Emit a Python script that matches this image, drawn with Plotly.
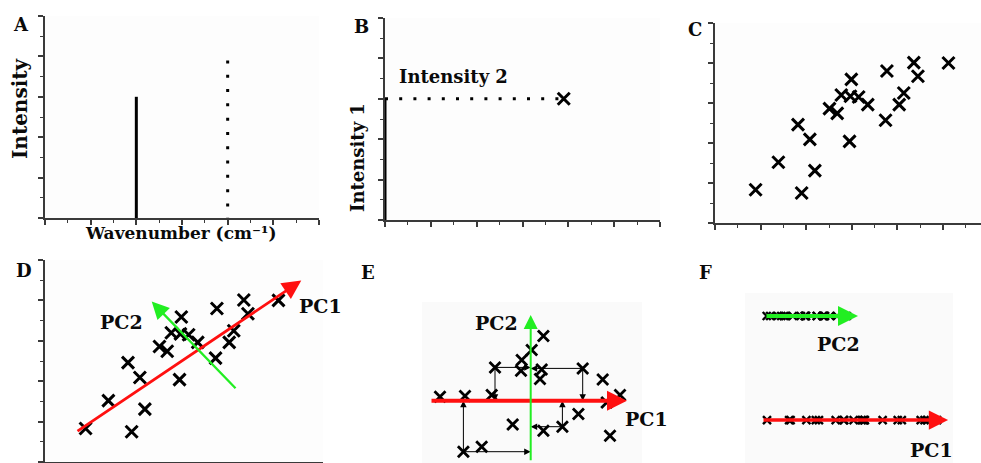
import plotly.graph_objects as go

W, H = 981, 463

# ---------------- data ----------------
# Panel A: two Raman/IR bands (position, intensity)
peak_pos = [2, 4]
peak_int = [3.0, 3.9]

# Panels C / D: samples in (Intensity 2, Intensity 1) space
samp_i2 = [0.89, 1.39, 1.90, 1.82, 2.08, 2.19, 2.51, 2.68, 2.77, 2.99, 2.97,
           3.15, 2.95, 3.35, 3.77, 3.74, 4.04, 4.14, 4.36, 4.45, 5.12]
samp_i1 = [0.83, 1.52, 0.75, 2.46, 2.09, 1.31, 2.86, 2.74, 3.20, 3.59, 3.17,
           3.15, 2.04, 2.96, 3.80, 2.57, 2.96, 3.25, 4.01, 3.67, 4.00]

# Panel D: principal component directions (tail, head)
pc1_tail, pc1_head = (0.68, 0.74), (5.62, 4.49)
pc2_tail, pc2_head = (4.21, 1.79), (2.34, 3.97)

# Panel E: scores in PC space
score_pc1 = [-9.07, -6.57, -3.90, -3.57, -0.90, -0.97, 0.10, 1.27, 1.10, 0.93, 5.20,
             7.20, 8.93, 7.60, 4.77, -1.80, 1.27, 3.17, 7.93, -6.73, -4.90]
score_pc2 = [0.40, 0.47, 0.57, 3.33, 4.07, 3.00, 5.07, 6.47, 3.13, 2.17, 3.23,
             2.13, 0.57, -0.17, -1.33, -2.37, -3.00, -2.60, -3.50, -5.10, -4.60]
proj_idx = [3, 10, 17, 19]

# axis extents of the PC arrows in E and F
e_pc1_span = (-10.07, 9.63)
e_pc2_span = (-6.1, 8.57)
f_pc1_span = (-9.6, 10.1)
f_pc2_span = (-5.35, 8.11)
f_rows = {"PC1": 0, "PC2": 1}

# ---------------- helpers ----------------
def xd(a, b):
    return [a / W, b / W]

def yd(top, bottom):
    return [1 - bottom / H, 1 - top / H]

AX = "#3a3a3a"
SERIF = "DejaVu Serif"

def frame_axis(domain, rng, dtick=1, ticks=True):
    d = dict(domain=domain, range=rng, showline=True, linecolor=AX, linewidth=1.6,
             showgrid=False, zeroline=False, showticklabels=False, fixedrange=True)
    if ticks:
        d.update(ticks="outside", ticklen=5, tickwidth=1.5, tickcolor=AX,
                 tick0=0, dtick=dtick,
                 minor=dict(ticks="outside", ticklen=3, tickwidth=1.3, tickcolor=AX,
                            dtick=dtick / 2, tick0=0, showgrid=False))
    else:
        d.update(ticks="")
    return d

def hidden_axis(domain, rng):
    return dict(domain=domain, range=rng, visible=False, fixedrange=True)

cross = dict(symbol="x-thin", size=12, color="black", line=dict(width=3, color="black"))

fig = go.Figure()

# ---------------- A ----------------
fig.add_trace(go.Scatter(x=[peak_pos[0], peak_pos[0]], y=[0, peak_int[0]], mode="lines",
                         line=dict(color="black", width=3), xaxis="x", yaxis="y"))
fig.add_trace(go.Scatter(x=[peak_pos[1], peak_pos[1]], y=[peak_int[1], 0], mode="lines",
                         line=dict(color="black", width=3, dash="3px,11.3px"),
                         xaxis="x", yaxis="y"))

# ---------------- B ----------------
fig.add_trace(go.Scatter(x=[0, 0], y=[0, peak_int[0]], mode="lines", cliponaxis=False,
                         line=dict(color="black", width=3), xaxis="x2", yaxis="y2"))
fig.add_trace(go.Scatter(x=[0, peak_int[1]], y=[peak_int[0], peak_int[0]], mode="lines",
                         line=dict(color="black", width=3, dash="3px,11.2px"),
                         xaxis="x2", yaxis="y2"))
fig.add_trace(go.Scatter(x=[peak_int[1]], y=[peak_int[0]], mode="markers", marker=cross,
                         xaxis="x2", yaxis="y2"))

# ---------------- C ----------------
fig.add_trace(go.Scatter(x=samp_i2, y=samp_i1, mode="markers", marker=cross,
                         xaxis="x3", yaxis="y3"))

# ---------------- D ----------------
fig.add_trace(go.Scatter(x=samp_i2, y=samp_i1, mode="markers", marker=cross,
                         xaxis="x4", yaxis="y4"))

# ---------------- E ----------------
ecross = dict(cross, size=11, line=dict(width=2.8, color="black"))
fig.add_trace(go.Scatter(x=score_pc1, y=score_pc2, mode="markers", marker=ecross,
                         xaxis="x5", yaxis="y5"))

# ---------------- F ----------------
fcross = dict(cross, size=8, line=dict(width=2.4, color="black"))
fig.add_trace(go.Scatter(x=score_pc1, y=[f_rows["PC1"]] * len(score_pc1), mode="markers",
                         marker=fcross, xaxis="x6", yaxis="y6"))
fig.add_trace(go.Scatter(x=score_pc2, y=[f_rows["PC2"]] * len(score_pc2), mode="markers",
                         marker=fcross, xaxis="x7", yaxis="y6"))

# ---------------- arrows ----------------
anns = []

def arrow(xref, yref, tail, head, color, width, size, hd=2):
    anns.append(dict(xref=xref, yref=yref, axref=xref, ayref=yref,
                     x=head[0], y=head[1], ax=tail[0], ay=tail[1], text="",
                     showarrow=True, arrowhead=hd, arrowsize=size, arrowwidth=width,
                     arrowcolor=color, standoff=0, startstandoff=0))

RED, GREEN = "#ff1010", "#22ee22"
arrow("x4", "y4", pc1_tail, pc1_head, RED, 2.8, 1.35)
arrow("x4", "y4", pc2_tail, pc2_head, GREEN, 2.3, 1.5)

# E projections (drawn under the PC axes)
for i in proj_idx:
    p = (score_pc1[i], score_pc2[i])
    arrow("x5", "y5", p, (p[0], 0), "black", 1, 1.3)
    arrow("x5", "y5", p, (0, p[1]), "black", 1, 1.3)
arrow("x5", "y5", (e_pc1_span[0], 0), (e_pc1_span[1], 0), RED, 4, 1.0)
arrow("x5", "y5", (0, e_pc2_span[0]), (0, e_pc2_span[1]), GREEN, 2, 1.4)

# F
fy1, fy2 = f_rows["PC1"], f_rows["PC2"]
arrow("x6", "y6", (f_pc1_span[0], fy1), (f_pc1_span[1], fy1), RED, 3.5, 1.1)
arrow("x7", "y6", (f_pc2_span[0], fy2), (f_pc2_span[1], fy2), GREEN, 4, 1.0)

# ---------------- text ----------------
def label(px, py, text, size, angle=0):
    anns.append(dict(xref="paper", yref="paper", x=px / W, y=1 - py / H, text=text,
                     showarrow=False, xanchor="center", yanchor="middle", textangle=angle,
                     font=dict(family=SERIF, size=size, color="#0a0a0a", weight="bold")))

for t, px, py in [("A", 21, 25), ("B", 361, 26), ("C", 695, 29),
                  ("D", 24, 270), ("E", 368, 272), ("F", 705, 272)]:
    label(px, py, t, 18)

label(20, 109, "Intensity", 20, -90)
label(180, 233, "Wavenumber (cm⁻¹)", 17)
label(357, 158, "Intensity 1", 18, -90)
label(453, 77, "Intensity 2", 18)
label(121, 322, "PC2", 19)
label(320, 306, "PC1", 19)
label(497, 323, "PC2", 19)
label(646, 419, "PC1", 19)
label(838, 344, "PC2", 19)
label(931, 450, "PC1", 19)

# ---------------- background boxes ----------------
shapes = []
for xa, ya, col in [("x", "y", "#fdfdfd"), ("x2", "y2", "#fdfdfd"), ("x3", "y3", "#fdfdfd"),
                    ("x4", "y4", "#fdfdfd"), ("x5", "y5", "#fafafa"), ("x6", "y6", "#fafafa")]:
    shapes.append(dict(type="rect", xref=f"{xa} domain", yref=f"{ya} domain",
                       x0=0, x1=1, y0=0, y1=1, fillcolor=col, line=dict(width=0),
                       layer="below"))

layout = dict(
    width=W, height=H, margin=dict(l=0, r=0, t=0, b=0),
    paper_bgcolor="white", plot_bgcolor="rgba(0,0,0,0)", showlegend=False,
    xaxis=dict(frame_axis(xd(45, 319), [0, 6]), anchor="y"),
    yaxis=dict(frame_axis(yd(16, 218), [0, 5]), anchor="x"),
    xaxis2=dict(frame_axis(xd(385, 660), [0, 6]), anchor="y2"),
    yaxis2=dict(frame_axis(yd(18, 220), [0, 5]), anchor="x2"),
    xaxis3=dict(frame_axis(xd(715, 981), [0, 266 / 45.6]), anchor="y3"),
    yaxis3=dict(frame_axis(yd(23, 223), [0, 5]), anchor="x3"),
    xaxis4=dict(frame_axis(xd(45, 323), [0, 278 / 45.6], ticks=False), anchor="y4"),
    yaxis4=dict(frame_axis(yd(260, 462), [0, 5]), anchor="x4"),
    xaxis5=dict(hidden_axis(xd(422, 642), [-10.87, 11.13]), anchor="y5"),
    yaxis5=dict(hidden_axis(yd(302, 463), [-6.23, 9.87]), anchor="x5"),
    xaxis6=dict(hidden_axis(xd(745, 953), [-11.40, 10.62]), anchor="y6"),
    xaxis7=dict(hidden_axis(xd(745, 953), [-8.24, 21.85]), overlaying="x6", anchor="y6"),
    yaxis6=dict(hidden_axis(yd(293, 463), [-0.413, 1.221]), anchor="x6"),
    annotations=anns, shapes=shapes,
)

fig.update_layout(**layout)
fig.update_traces(hoverinfo="skip")
fig.write_html("out.html", config={"displayModeBar": False})
